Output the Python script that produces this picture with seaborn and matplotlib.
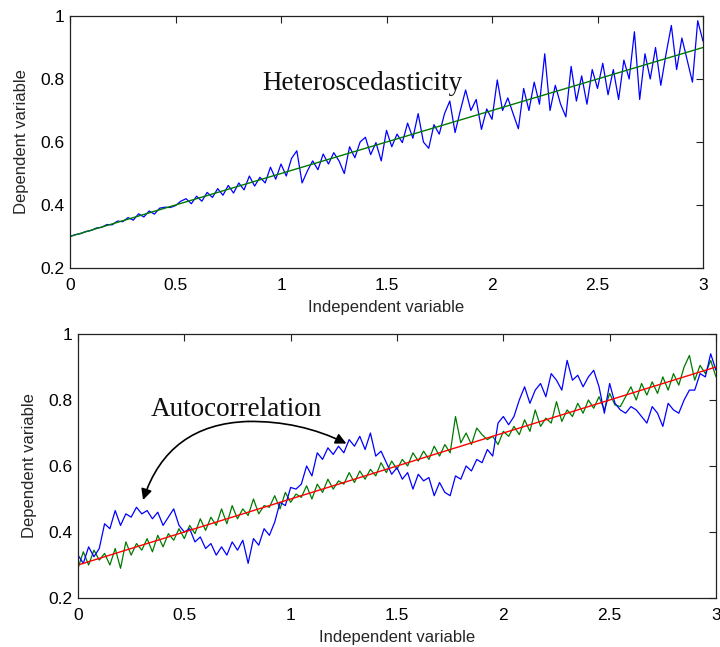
import matplotlib
matplotlib.use("Agg")
import matplotlib.pyplot as plt
import matplotlib.ticker as mticker
import numpy as np
import pandas as pd
import seaborn as sns

# ---------------- data ----------------
x_grid = [round(0.025 * i, 3) for i in range(121)]

top_noisy = [
    0.300, 0.306, 0.309, 0.316, 0.319, 0.327, 0.329, 0.338, 0.337, 0.349,
    0.347, 0.360, 0.352, 0.372, 0.362, 0.381, 0.371, 0.390, 0.393, 0.392,
    0.398, 0.412, 0.420, 0.404, 0.428, 0.412, 0.440, 0.424, 0.452, 0.431,
    0.462, 0.438, 0.470, 0.448, 0.492, 0.460, 0.488, 0.470, 0.520, 0.482,
    0.530, 0.492, 0.548, 0.572, 0.470, 0.508, 0.540, 0.512, 0.562, 0.530,
    0.566, 0.540, 0.500, 0.585, 0.550, 0.600, 0.615, 0.560, 0.598, 0.540,
    0.637, 0.585, 0.625, 0.598, 0.660, 0.612, 0.690, 0.600, 0.580, 0.655,
    0.625, 0.690, 0.730, 0.630, 0.700, 0.765, 0.700, 0.735, 0.640, 0.705,
    0.672, 0.797, 0.700, 0.740, 0.690, 0.642, 0.770, 0.700, 0.790, 0.720,
    0.880, 0.700, 0.780, 0.720, 0.680, 0.840, 0.730, 0.810, 0.720, 0.830,
    0.770, 0.850, 0.750, 0.830, 0.735, 0.860, 0.800, 0.950, 0.735, 0.880,
    0.800, 0.900, 0.780, 0.880, 0.970, 0.830, 0.930, 0.860, 0.790, 0.985,
    0.920,
]

fit_x = [0.0, 3.0]
fit_y = [0.3, 0.9]

bottom_autocorr = [
    0.330, 0.305, 0.355, 0.325, 0.350, 0.425, 0.410, 0.465, 0.420, 0.455,
    0.445, 0.475, 0.455, 0.465, 0.440, 0.460, 0.420, 0.445, 0.470, 0.420,
    0.400, 0.410, 0.370, 0.385, 0.350, 0.365, 0.330, 0.355, 0.330, 0.370,
    0.345, 0.375, 0.305, 0.380, 0.360, 0.410, 0.390, 0.430, 0.490, 0.480,
    0.535, 0.530, 0.545, 0.600, 0.570, 0.640, 0.620, 0.655, 0.635, 0.660,
    0.640, 0.680, 0.660, 0.690, 0.650, 0.700, 0.630, 0.645, 0.610, 0.575,
    0.595, 0.560, 0.580, 0.530, 0.575, 0.555, 0.565, 0.510, 0.550, 0.520,
    0.510, 0.570, 0.560, 0.600, 0.585, 0.620, 0.610, 0.650, 0.630, 0.730,
    0.750, 0.725, 0.750, 0.800, 0.840, 0.790, 0.830, 0.850, 0.810, 0.880,
    0.860, 0.830, 0.920, 0.860, 0.875, 0.840, 0.870, 0.890, 0.840, 0.760,
    0.850, 0.790, 0.770, 0.760, 0.780, 0.770, 0.750, 0.730, 0.780, 0.760,
    0.720, 0.790, 0.770, 0.760, 0.800, 0.830, 0.830, 0.880, 0.870, 0.940,
    0.890,
]

bottom_white = [
    0.290, 0.340, 0.300, 0.345, 0.315, 0.335, 0.300, 0.350, 0.290, 0.370,
    0.330, 0.365, 0.345, 0.380, 0.340, 0.390, 0.355, 0.395, 0.375, 0.410,
    0.380, 0.420, 0.395, 0.440, 0.405, 0.445, 0.420, 0.470, 0.425, 0.480,
    0.440, 0.470, 0.450, 0.500, 0.455, 0.480, 0.475, 0.510, 0.470, 0.520,
    0.490, 0.515, 0.505, 0.540, 0.500, 0.545, 0.520, 0.560, 0.530, 0.555,
    0.545, 0.580, 0.550, 0.585, 0.560, 0.590, 0.570, 0.610, 0.580, 0.615,
    0.590, 0.620, 0.600, 0.640, 0.615, 0.645, 0.620, 0.660, 0.630, 0.665,
    0.640, 0.750, 0.670, 0.700, 0.665, 0.715, 0.695, 0.680, 0.690, 0.665,
    0.705, 0.690, 0.720, 0.695, 0.740, 0.705, 0.770, 0.720, 0.745, 0.730,
    0.795, 0.735, 0.770, 0.750, 0.790, 0.760, 0.800, 0.775, 0.810, 0.770,
    0.820, 0.785, 0.780, 0.810, 0.840, 0.800, 0.850, 0.815, 0.855, 0.820,
    0.870, 0.830, 0.880, 0.845, 0.900, 0.935, 0.860, 0.905, 0.880, 0.920,
    0.870,
]

x_ticks = [0, 0.5, 1, 1.5, 2, 2.5, 3]
y_ticks = [0.2, 0.4, 0.6, 0.8, 1.0]
x_label = "Independent variable"
y_label = "Dependent variable"
top_note = "Heteroscedasticity"
bottom_note = "Autocorrelation"

# ---------------- styling ----------------
sns.set_style("white")
plt.rcParams["font.family"] = ["Liberation Sans", "DejaVu Sans"]
plt.rcParams["xtick.direction"] = "in"
plt.rcParams["ytick.direction"] = "in"

fig = plt.figure(figsize=(7.2, 6.47), dpi=100)
ax1 = fig.add_axes([70 / 720, 1 - 268 / 647, 633 / 720, 252 / 647])
ax2 = fig.add_axes([78 / 720, 1 - 598 / 647, 638 / 720, 264 / 647])

df_top = pd.DataFrame({"x": x_grid, "y": top_noisy})
df_fit = pd.DataFrame({"x": fit_x, "y": fit_y})
df_auto = pd.DataFrame({"x": x_grid, "y": bottom_autocorr})
df_white = pd.DataFrame({"x": x_grid, "y": bottom_white})

sns.lineplot(data=df_top, x="x", y="y", ax=ax1, color="#0000ff", lw=0.9, estimator=None)
sns.lineplot(data=df_fit, x="x", y="y", ax=ax1, color="#007a00", lw=1.0, estimator=None)

sns.lineplot(data=df_white, x="x", y="y", ax=ax2, color="#007a00", lw=0.9, estimator=None)
sns.lineplot(data=df_auto, x="x", y="y", ax=ax2, color="#0000ff", lw=0.9, estimator=None)
sns.lineplot(data=df_fit, x="x", y="y", ax=ax2, color="#ff0000", lw=1.0, estimator=None)

for ax in (ax1, ax2):
    ax.set_xlim(0, 3)
    ax.set_ylim(0.2, 1.0)
    ax.set_xticks(x_ticks)
    ax.set_yticks(y_ticks)
    ax.xaxis.set_major_formatter(mticker.FuncFormatter(lambda v, p: "%g" % v))
    ax.yaxis.set_major_formatter(mticker.FuncFormatter(lambda v, p: "%g" % v))
    ax.tick_params(axis="both", which="both", direction="in", top=True, right=True,
                   length=5, width=0.8, labelsize=12.5, colors="#222222",
                   labelcolor="black")
    ax.tick_params(axis="x", pad=7)
    ax.tick_params(axis="y", pad=4)
    for s in ax.spines.values():
        s.set_color("#222222")
        s.set_linewidth(0.9)
    ax.set_xlabel(x_label, fontsize=12, labelpad=5)
    ax.set_ylabel(y_label, fontsize=12, labelpad=8)

ax1.text(0.91, 0.787, top_note, fontsize=19.5, family=["Liberation Serif"],
         va="center", ha="left", color="#111111")
ax2.text(0.34, 0.77, bottom_note, fontsize=19.5, family=["Liberation Serif"],
         va="center", ha="left", color="#111111")

arrow_kw = dict(arrowstyle="-|>", color="black", lw=1.2, mutation_scale=16, shrinkA=0, shrinkB=0)
ax2.annotate("", xy=(0.306, 0.497), xytext=(0.80, 0.735),
             arrowprops=dict(connectionstyle="arc3,rad=0.35", **arrow_kw))
ax2.annotate("", xy=(1.262, 0.668), xytext=(0.80, 0.735),
             arrowprops=dict(connectionstyle="arc3,rad=-0.12", **arrow_kw))

fig.savefig("out.png", dpi=100)
